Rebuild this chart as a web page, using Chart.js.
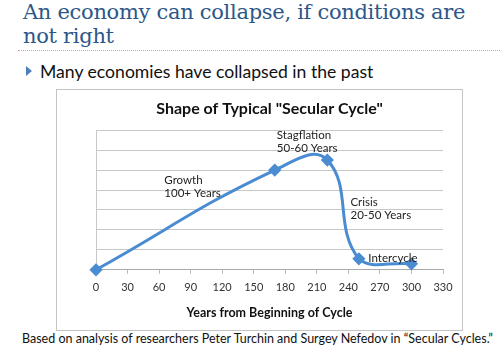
<!DOCTYPE html>
<html>
<head>
<meta charset="utf-8">
<script src="https://cdn.jsdelivr.net/npm/chart.js@4"></script>
<style>
  body { margin: 0; width: 500px; height: 352px; background: #fff; position: relative; overflow: hidden; }
  #title { position: absolute; left: 23px; top: 0px; font: 21px "DejaVu Serif", serif; color: #2d5788; line-height: 24px; letter-spacing: -0.3px; }
  #rule { position: absolute; left: 18px; right: 0; top: 50px; border-top: 1px dotted #e39a9a; }
  #bullet { position: absolute; left: 26px; top: 66px; width: 0; height: 0; border-top: 5px solid transparent; border-bottom: 5px solid transparent; border-left: 6px solid #4f7fb8; }
  #point { position: absolute; left: 40px; top: 61px; font: 17.6px Lato, sans-serif; color: #111; }
  #box { position: absolute; left: 56px; top: 89px; width: 405px; height: 240px; border: 1px solid #c4c4c4; }
  #caption { position: absolute; left: 22px; top: 331px; font: 12.5px Lato, sans-serif; color: #111; white-space: nowrap; }
</style>
</head>
<body>
<div id="title">An economy can collapse, if conditions are<br>not right</div>
<div id="rule"></div>
<div id="bullet"></div>
<div id="point">Many economies have collapsed in the past</div>
<div id="box"><canvas id="cycleChart" width="405" height="240"></canvas></div>
<div id="caption">Based on analysis of researchers Peter Turchin and Surgey Nefedov in “Secular Cycles.”</div>
<script>
// years from start of cycle and relative level
const years = [0, 170, 220, 250, 300];
const level = [0, 5, 5.5, 0.55, 0.3];

const xTicks = [0, 30, 60, 90, 120, 150, 180, 210, 240, 270, 300, 330];

// phase labels, anchored in data units
const noteText = [["Growth", "100+ Years"], ["Stagflation", "50-60 Years"], ["Crisis", "20-50 Years"], ["Intercycle"]];
const noteX = [65, 172, 242, 259];
const noteY = [4.5, 6.75, 3.4, 0.6];

const notes = {
  id: "notes",
  afterDatasetsDraw(chart) {
    const ctx = chart.ctx;
    const xs = chart.scales.x, ys = chart.scales.y;
    ctx.save();
    ctx.font = "11.5px Lato, sans-serif";
    ctx.fillStyle = "#222";
    ctx.textBaseline = "middle";
    noteText.forEach((lines, i) => {
      const px = xs.getPixelForValue(noteX[i]);
      const py = ys.getPixelForValue(noteY[i]);
      lines.forEach((t, j) => ctx.fillText(t, px, py + j * 13));
    });
    ctx.restore();
  }
};

new Chart(document.getElementById("cycleChart"), {
  type: "scatter",
  data: {
    datasets: [{
      data: years.map((x, i) => ({ x: x, y: level[i] })),
      showLine: true,
      tension: 0.45,
      borderColor: "#4a8cd2",
      backgroundColor: "#4a8cd2",
      borderWidth: 3,
      pointStyle: "rectRot",
      pointRadius: 4.5,
      clip: false
    }]
  },
  options: {
    responsive: false,
    animation: false,
    layout: { padding: { left: 39, right: 19, top: 0, bottom: 6 } },
    plugins: {
      legend: { display: false },
      tooltip: { enabled: false },
      title: {
        display: true,
        text: 'Shape of Typical "Secular Cycle"',
        color: "#111",
        font: { family: "Lato, sans-serif", size: 16, weight: "bold" },
        padding: { top: 9, bottom: 12 }
      }
    },
    scales: {
      x: {
        type: "linear",
        min: 0,
        max: 330,
        afterBuildTicks: axis => { axis.ticks = xTicks.map(v => ({ value: v })); },
        ticks: { color: "#333", font: { family: "Lato, sans-serif", size: 11 }, padding: 7 },
        grid: { drawOnChartArea: false, drawTicks: true, tickLength: 4, color: "#bbb" },
        border: { color: "#aaa" },
        title: {
          display: true,
          text: "Years from Beginning of Cycle",
          color: "#111",
          font: { family: "Lato, sans-serif", size: 12.5, weight: "bold" },
          padding: { top: 4, bottom: 4 }
        }
      },
      y: {
        min: 0,
        max: 7,
        ticks: { display: false, stepSize: 1 },
        grid: { color: "#c8c8c8", drawTicks: false },
        border: { color: "#c8c8c8" }
      }
    }
  },
  plugins: [notes]
});
</script>
</body>
</html>
